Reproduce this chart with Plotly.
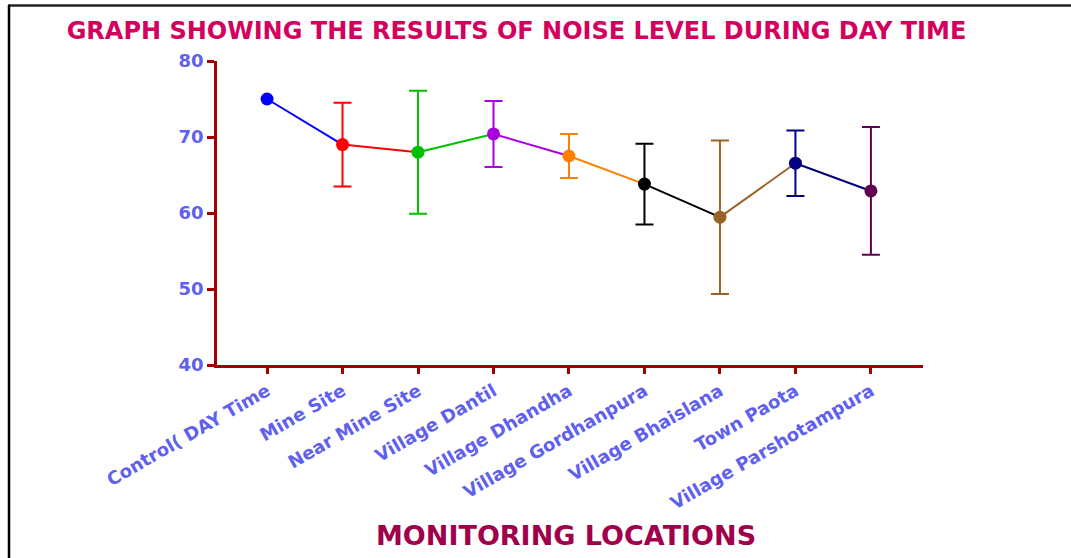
import plotly.graph_objects as go

categories = ["Control( DAY Time", "Mine Site", "Near Mine Site", "Village Dantil",
              "Village Dhandha", "Village Gordhanpura", "Village Bhaislana",
              "Town Paota", "Village Parshotampura"]
means = [75.0, 69.0, 68.0, 70.4, 67.5, 63.8, 59.45, 66.55, 62.9]
errors = [0.0, 5.5, 8.1, 4.35, 2.9, 5.3, 10.1, 4.3, 8.4]
colors = ["#0000FF", "#FF0000", "#00C000", "#A800E0", "#FF8000",
          "#000000", "#9A6426", "#000080", "#600050"]
y_ticks = [40, 50, 60, 70, 80]

W, H = 1071, 558
L, R, T, B = 217, 148, 61, 193
pw, ph = W - L - R, H - T - B

fig = go.Figure()

# connecting segments, colored by starting point
for i in range(len(categories) - 1):
    fig.add_trace(go.Scatter(
        x=[i, i + 1], y=[means[i], means[i + 1]], mode="lines",
        line=dict(color=colors[i], width=2), hoverinfo="skip", showlegend=False))

# points with error bars
for i, c in enumerate(categories):
    fig.add_trace(go.Scatter(
        x=[i], y=[means[i]], mode="markers",
        marker=dict(color=colors[i], size=13, symbol="circle"),
        error_y=dict(type="data", array=[errors[i]], visible=errors[i] > 0,
                     color=colors[i], thickness=2, width=9),
        showlegend=False, name=c))

tickfont = dict(family="DejaVu Sans", size=18, color="#5F5FF0", weight="bold")
axcol = "#A00000"

fig.update_layout(
    width=W, height=H,
    margin=dict(l=L, r=R, t=T, b=B),
    paper_bgcolor="white", plot_bgcolor="white",
    title=dict(text="GRAPH SHOWING THE RESULTS OF NOISE LEVEL DURING DAY TIME",
               x=516.5 / W, xanchor="center", y=1 - 31 / H, yanchor="middle",
               font=dict(family="DejaVu Sans", size=24, color="#D4005E", weight="bold")),
    xaxis=dict(
        range=[-0.663, 8.69], tickmode="array", tickvals=list(range(len(categories))),
        ticktext=categories, tickangle=-30, tickfont=tickfont,
        showline=True, linecolor=axcol, linewidth=2.5, ticks="outside",
        ticklen=6, tickwidth=2.5, tickcolor=axcol, showgrid=False, zeroline=False),
    yaxis=dict(
        range=[40, 80], tickmode="array", tickvals=y_ticks, tickfont=tickfont,
        showline=True, linecolor=axcol, linewidth=2.5, ticks="outside",
        ticklen=7, tickwidth=2.5, tickcolor=axcol, showgrid=False, zeroline=False),
    annotations=[dict(
        text="MONITORING LOCATIONS", xref="paper", yref="paper",
        x=(566 - L) / pw, y=(H - B - 535) / ph, xanchor="center", yanchor="middle",
        showarrow=False,
        font=dict(family="DejaVu Sans", size=27, color="#A0004B", weight="bold"))],
    shapes=[
        dict(type="line", xref="paper", yref="paper",
             x0=(8 - L) / pw, x1=(W - L) / pw, y0=(H - B - 5.5) / ph, y1=(H - B - 5.5) / ph,
             line=dict(color="#222222", width=2.5)),
        dict(type="line", xref="paper", yref="paper",
             x0=(9 - L) / pw, x1=(9 - L) / pw, y0=(H - B - 5) / ph, y1=(H - B - H) / ph,
             line=dict(color="#000000", width=2.5)),
    ],
)

fig.write_html("out.html", config={"displayModeBar": False},
               post_script="document.body.style.margin='0';document.body.style.overflow='hidden';")
